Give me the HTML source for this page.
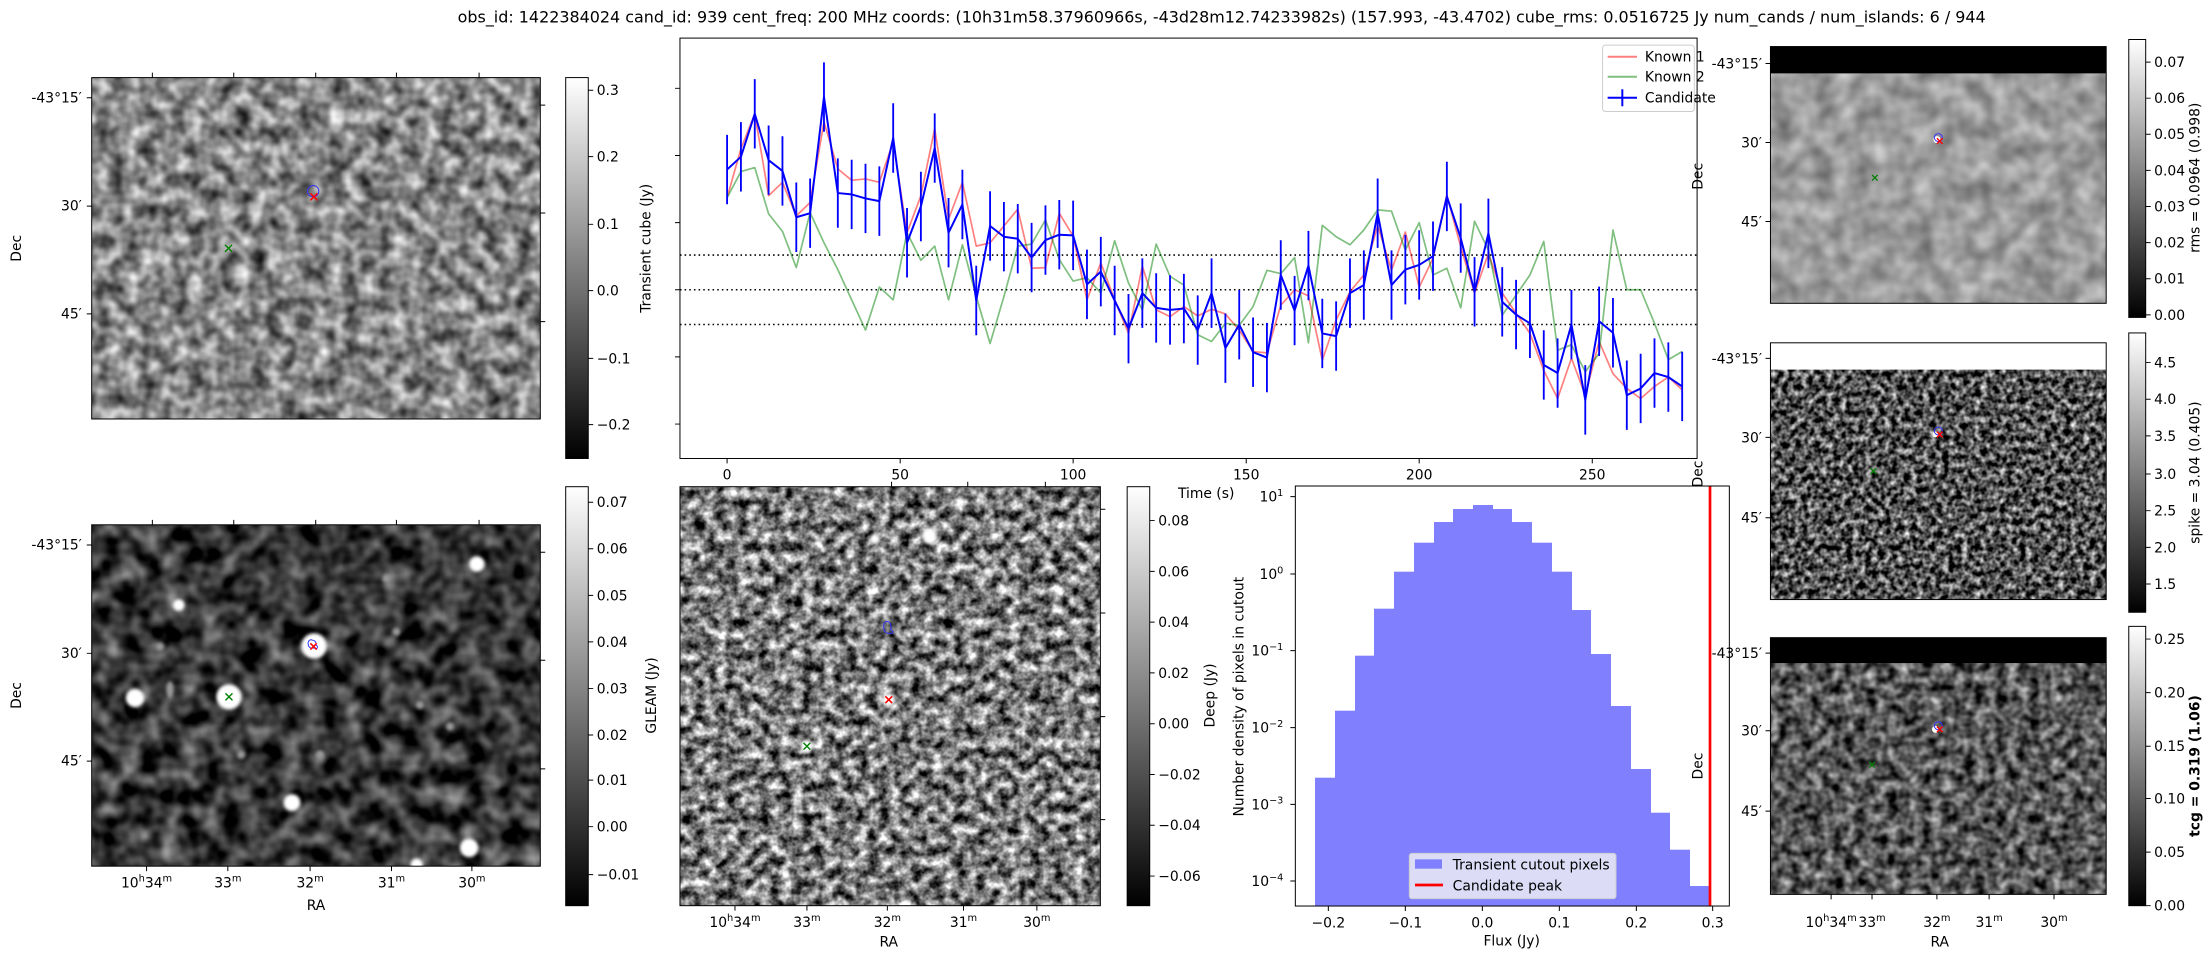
<!DOCTYPE html>
<html><head><meta charset="utf-8"><style>html,body{margin:0;padding:0;background:#fff;}svg{display:block;}</style></head>
<body>
<svg id="s" xmlns="http://www.w3.org/2000/svg" width="2212" height="960" viewBox="0 0 1568 680.5" font-family="DejaVu Sans, Liberation Sans, sans-serif" font-size="9.85">
<defs>
<linearGradient id="cb" x1="0" y1="1" x2="0" y2="0"><stop offset="0" stop-color="#000"/><stop offset="1" stop-color="#fff"/></linearGradient>
<filter id="fA" filterUnits="userSpaceOnUse" x="65" y="55" width="318" height="242" color-interpolation-filters="sRGB"><feTurbulence type="fractalNoise" baseFrequency="0.09" numOctaves="2" seed="3"/><feColorMatrix type="matrix" values="1.15 0 0 0 -0.05  1.15 0 0 0 -0.05  1.15 0 0 0 -0.05  0 0 0 0 1"/></filter>
<filter id="fC" filterUnits="userSpaceOnUse" x="65" y="372" width="318" height="242" color-interpolation-filters="sRGB"><feTurbulence type="fractalNoise" baseFrequency="0.07" numOctaves="2" seed="7"/><feColorMatrix type="matrix" values="1.05 0 0 0 -0.31  1.05 0 0 0 -0.31  1.05 0 0 0 -0.31  0 0 0 0 1"/></filter>
<filter id="fD" filterUnits="userSpaceOnUse" x="482" y="345" width="298" height="297" color-interpolation-filters="sRGB"><feTurbulence type="fractalNoise" baseFrequency="0.13" numOctaves="3" seed="11"/><feColorMatrix type="matrix" values="1.7 0 0 0 -0.37  1.7 0 0 0 -0.37  1.7 0 0 0 -0.37  0 0 0 0 1"/></filter>
<filter id="fE" filterUnits="userSpaceOnUse" x="1255" y="33" width="238" height="182" color-interpolation-filters="sRGB"><feTurbulence type="fractalNoise" baseFrequency="0.07" numOctaves="2" seed="5"/><feColorMatrix type="matrix" values="0.5 0 0 0 0.36  0.5 0 0 0 0.36  0.5 0 0 0 0.36  0 0 0 0 1"/></filter>
<filter id="fF" filterUnits="userSpaceOnUse" x="1255" y="243" width="238" height="182" color-interpolation-filters="sRGB"><feTurbulence type="fractalNoise" baseFrequency="0.22" numOctaves="2" seed="9"/><feColorMatrix type="matrix" values="1.7 0 0 0 -0.53  1.7 0 0 0 -0.53  1.7 0 0 0 -0.53  0 0 0 0 1"/></filter>
<filter id="fG" filterUnits="userSpaceOnUse" x="1255" y="452" width="238" height="182" color-interpolation-filters="sRGB"><feTurbulence type="fractalNoise" baseFrequency="0.13" numOctaves="2" seed="13"/><feColorMatrix type="matrix" values="1.2 0 0 0 -0.26  1.2 0 0 0 -0.26  1.2 0 0 0 -0.26  0 0 0 0 1"/></filter>
<filter id="bl" x="-1" y="-1" width="3" height="3"><feGaussianBlur stdDeviation="1.1"/></filter>
<clipPath id="cC"><rect x="65" y="372" width="318" height="242"/></clipPath>
<clipPath id="cD"><rect x="482" y="345" width="298" height="297"/></clipPath>
</defs>

<text x="866" y="16" font-size="11.3" text-anchor="middle">obs_id: 1422384024 cand_id: 939 cent_freq: 200 MHz coords: (10h31m58.37960966s, -43d28m12.74233982s) (157.993, -43.4702) cube_rms: 0.0516725 Jy num_cands / num_islands: 6 / 944</text>

<!-- Panel A -->
<rect x="65" y="55" width="318" height="242" filter="url(#fA)"/>
<rect x="65" y="55" width="318" height="242" fill="none" stroke="#000" stroke-width="0.7"/>
<g stroke="#000" stroke-width="0.7">
<path d="M65 69.3h-3.5M65 146.1h-3.5M65 222.5h-3.5M383 74.5h3.5M383 151h3.5M383 228h3.5M108 55v-3.5M165.7 55v-3.5M223.8 55v-3.5M281 55v-3.5M339.6 55v-3.5"/>
</g>
<text x="58" y="72.5" text-anchor="end">-43°15′</text>
<text x="58" y="149.3" text-anchor="end">30′</text>
<text x="58" y="225.7" text-anchor="end">45′</text>
<text transform="translate(15,176) rotate(-90)" text-anchor="middle">Dec</text>
<circle cx="222" cy="135.5" r="4" fill="none" stroke="#33f" stroke-width="0.7"/>
<path d="M220 137l5 5M225 137l-5 5" stroke="red" stroke-width="1.1"/>
<path d="M159.5 173.5l5 5M164.5 173.5l-5 5" stroke="green" stroke-width="1"/>

<!-- Colorbar A -->
<rect x="401" y="55" width="16" height="270" fill="url(#cb)" stroke="#000" stroke-width="0.7"/>
<path d="M417 64h3.5M417 111h3.5M417 159h3.5M417 206h3.5M417 254h3.5M417 301h3.5" stroke="#000" stroke-width="0.7"/>
<g text-anchor="start"><text x="423" y="67.5">0.3</text><text x="423" y="114.5">0.2</text><text x="423" y="162.5">0.1</text><text x="423" y="209.5">0.0</text><text x="423" y="257.5">−0.1</text><text x="423" y="304.5">−0.2</text></g>

<!-- Light curve -->
<rect x="482" y="27" width="721" height="298" fill="none" stroke="#000" stroke-width="0.7"/>
<path d="M482 62.6h-3.5M482 110.2h-3.5M482 157.8h-3.5M482 205.4h-3.5M482 253h-3.5M482 300.6h-3.5" stroke="#000" stroke-width="0.7"/>
<path d="M515.4 325v3.5M638.1 325v3.5M760.7 325v3.5M883.4 325v3.5M1006 325v3.5M1128.7 325v3.5" stroke="#000" stroke-width="0.7"/>
<g text-anchor="middle"><text x="515.4" y="340">0</text><text x="638.1" y="340">50</text><text x="760.7" y="340">100</text><text x="883.4" y="340">150</text><text x="1006" y="340">200</text><text x="1128.7" y="340">250</text></g>
<text x="855" y="353" text-anchor="middle">Time (s)</text>
<text transform="translate(461,176) rotate(-90)" text-anchor="middle">Transient cube (Jy)</text>
<g stroke="#000" stroke-width="1.1" stroke-dasharray="1.1 2.2"><path d="M482 180.8H1203M482 205.4H1203M482 230H1203"/></g>
<g id="lc"></g>
<rect x="1136" y="32" width="65" height="47" rx="2" fill="#fff" fill-opacity="0.8" stroke="#ccc" stroke-width="0.7"/>
<path d="M1139.6 40.2h20.8" stroke="#f00" stroke-opacity="0.5" stroke-width="1.4"/>
<path d="M1139.6 54.4h20.8" stroke="#008000" stroke-opacity="0.5" stroke-width="1.4"/>
<path d="M1139.6 69.3h20.8M1150 63.3v12" stroke="#00f" stroke-width="1.4"/>
<text x="1166" y="43.6">Known 1</text><text x="1166" y="57.8">Known 2</text><text x="1166" y="72.7">Candidate</text>

<!-- Panel C (GLEAM) -->
<rect x="65" y="372" width="318" height="242" filter="url(#fC)"/>
<g clip-path="url(#cC)" fill="#fff" filter="url(#bl)">
<circle cx="222.6" cy="457.9" r="9"/><circle cx="162.3" cy="494" r="9"/><circle cx="95.7" cy="494.8" r="6.5"/><circle cx="338" cy="399.8" r="5.5"/><circle cx="126.7" cy="428.9" r="4.2"/><circle cx="207" cy="569" r="6"/><circle cx="332.5" cy="601" r="6.5"/><circle cx="295.4" cy="613" r="4.5"/>
<g fill="#999"><circle cx="113.4" cy="458.4" r="3"/><ellipse cx="120.5" cy="489" rx="2.5" ry="6"/><circle cx="281" cy="447.8" r="3"/><circle cx="297.7" cy="499.7" r="3"/><circle cx="274" cy="410" r="3"/><circle cx="171" cy="535" r="3"/><circle cx="319" cy="515" r="3"/><circle cx="226.8" cy="535" r="3"/></g>
</g>
<rect x="65" y="372" width="318" height="242" fill="none" stroke="#000" stroke-width="0.7"/>
<g stroke="#000" stroke-width="0.7">
<path d="M65 386.3h-3.5M65 463.1h-3.5M65 539.5h-3.5M383 391.5h3.5M383 468h3.5M383 545h3.5M108 372v-3.5M165.7 372v-3.5M223.8 372v-3.5M281 372v-3.5M339.6 372v-3.5M103.9 614v3.5M161.5 614v3.5M219.8 614v3.5M277.5 614v3.5M334.5 614v3.5"/>
</g>
<text x="58" y="389.5" text-anchor="end">-43°15′</text>
<text x="58" y="466.3" text-anchor="end">30′</text>
<text x="58" y="542.7" text-anchor="end">45′</text>
<text transform="translate(15,493) rotate(-90)" text-anchor="middle">Dec</text>
<g text-anchor="middle">
<text x="103.9" y="629">10<tspan font-size="7" dy="-4">h</tspan><tspan dy="4">34</tspan><tspan font-size="7" dy="-4">m</tspan></text>
<text x="161.5" y="629">33<tspan font-size="7" dy="-4">m</tspan></text>
<text x="219.8" y="629">32<tspan font-size="7" dy="-4">m</tspan></text>
<text x="277.5" y="629">31<tspan font-size="7" dy="-4">m</tspan></text>
<text x="334.5" y="629">30<tspan font-size="7" dy="-4">m</tspan></text>
<text x="224" y="645">RA</text>
</g>
<path d="M221.5 453.8c-2-1-3.5 1-3 3 0 2 2 3 3 2.5l3 0.5c1-1 0.5-2-0.5-2.5c0.5-2-1-3.5-2.5-3.5z" fill="none" stroke="#33f" stroke-width="0.7"/>
<path d="M220 456l4.5 4.5M224.5 456l-4.5 4.5" stroke="red" stroke-width="1.1"/>
<path d="M159.8 491.5l5 5M164.8 491.5l-5 5" stroke="green" stroke-width="1"/>

<!-- Colorbar C -->
<rect x="401" y="345" width="16" height="297" fill="url(#cb)" stroke="#000" stroke-width="0.7"/>
<path d="M417 356h3.5M417 389h3.5M417 422h3.5M417 455h3.5M417 488h3.5M417 521h3.5M417 553h3.5M417 586h3.5M417 620h3.5" stroke="#000" stroke-width="0.7"/>
<g><text x="423" y="359.5">0.07</text><text x="423" y="392.5">0.06</text><text x="423" y="425.5">0.05</text><text x="423" y="458.5">0.04</text><text x="423" y="491.5">0.03</text><text x="423" y="524.5">0.02</text><text x="423" y="556.5">0.01</text><text x="423" y="589.5">0.00</text><text x="423" y="623.5">−0.01</text></g>
<text transform="translate(465,493) rotate(-90)" text-anchor="middle">GLEAM (Jy)</text>

<!-- Panel D (Deep) -->
<rect x="482" y="345" width="298" height="297" filter="url(#fD)"/>
<g clip-path="url(#cD)" fill="#fff" filter="url(#bl)">
<circle cx="630" cy="496" r="4.5"/><circle cx="572" cy="529" r="4.5"/><ellipse cx="659" cy="380" rx="5" ry="6"/><circle cx="620" cy="382" r="3.5"/><circle cx="700" cy="405" r="3"/><circle cx="770" cy="520" r="3"/>
</g>
<rect x="482" y="345" width="298" height="297" fill="none" stroke="#000" stroke-width="0.7"/>
<g stroke="#000" stroke-width="0.7">
<path d="M780 361h3.5M780 434.5h3.5M780 508h3.5M780 581h3.5M632 345v-3.5M686 345v-3.5M741 345v-3.5M521 642v3.5M572 642v3.5M629 642v3.5M683 642v3.5M735 642v3.5"/>
</g>
<g text-anchor="middle">
<text x="521" y="657">10<tspan font-size="7" dy="-4">h</tspan><tspan dy="4">34</tspan><tspan font-size="7" dy="-4">m</tspan></text>
<text x="572" y="657">33<tspan font-size="7" dy="-4">m</tspan></text>
<text x="629" y="657">32<tspan font-size="7" dy="-4">m</tspan></text>
<text x="683" y="657">31<tspan font-size="7" dy="-4">m</tspan></text>
<text x="735" y="657">30<tspan font-size="7" dy="-4">m</tspan></text>
<text x="630" y="671">RA</text>
</g>
<path d="M629 440.5c-2 0-3 2-2.5 4.5c0 2.5 1.5 4 3.5 4l2.5 0c1-1 0-2-1-2.5c0.5-3-0.5-6-2.5-6z" fill="none" stroke="#33f" stroke-width="0.7"/>
<path d="M627.6 493.6l4.8 4.8M632.4 493.6l-4.8 4.8" stroke="red" stroke-width="1.1"/>
<path d="M569.6 526.6l4.8 4.8M574.4 526.6l-4.8 4.8" stroke="green" stroke-width="1"/>

<!-- Colorbar D -->
<rect x="799" y="345" width="16" height="297" fill="url(#cb)" stroke="#000" stroke-width="0.7"/>
<path d="M815 369h3.5M815 405h3.5M815 441h3.5M815 477h3.5M815 513h3.5M815 549h3.5M815 585h3.5M815 621h3.5" stroke="#000" stroke-width="0.7"/>
<g><text x="821" y="372.5">0.08</text><text x="821" y="408.5">0.06</text><text x="821" y="444.5">0.04</text><text x="821" y="480.5">0.02</text><text x="821" y="516.5">0.00</text><text x="821" y="552.5">−0.02</text><text x="821" y="588.5">−0.04</text><text x="821" y="624.5">−0.06</text></g>
<text transform="translate(861,493) rotate(-90)" text-anchor="middle">Deep (Jy)</text>

<!-- Histogram -->
<g transform="translate(871.9,340.26) scale(0.23629)">
<g fill="#8080ff">
<rect x="255" y="893" width="60" height="385"/><rect x="315" y="692" width="60" height="586"/><rect x="375" y="527" width="57" height="751"/><rect x="432" y="386" width="60" height="892"/><rect x="492" y="275" width="60" height="1003"/><rect x="552" y="188" width="60" height="1090"/><rect x="612" y="126" width="57" height="1152"/><rect x="669" y="87" width="60" height="1191"/><rect x="729" y="75" width="60" height="1203"/><rect x="789" y="87" width="57" height="1191"/><rect x="846" y="126" width="60" height="1152"/><rect x="906" y="188" width="60" height="1090"/><rect x="966" y="275" width="60" height="1003"/><rect x="1026" y="390" width="57" height="888"/><rect x="1083" y="522" width="60" height="756"/><rect x="1143" y="678" width="60" height="600"/><rect x="1203" y="867" width="60" height="411"/><rect x="1263" y="998" width="57" height="280"/><rect x="1320" y="1109" width="60" height="169"/><rect x="1380" y="1218" width="58" height="60"/>
</g>
<path d="M1440 18V1278" stroke="red" stroke-width="8"/>
<rect x="196" y="18" width="1302" height="1260" fill="none" stroke="#000" stroke-width="3"/>
<g stroke="#000" stroke-width="3"><path d="M196 50h-15M196 282h-15M196 512h-15M196 743h-15M196 973h-15M196 1203h-15M295 1278v15M526 1278v15M757 1278v15M988 1278v15M1219 1278v15M1448 1278v15"/></g>
<g font-size="41.7" text-anchor="middle">
<text x="295" y="1342">−0.2</text><text x="526" y="1342">−0.1</text><text x="757" y="1342">0.0</text><text x="988" y="1342">0.1</text><text x="1219" y="1342">0.2</text><text x="1448" y="1342">0.3</text>
<text x="845" y="1397">Flux (Jy)</text>
</g>
<g font-size="41.7" text-anchor="end">
<text x="160" y="65">10<tspan font-size="29" dy="-17">1</tspan></text>
<text x="160" y="297">10<tspan font-size="29" dy="-17">0</tspan></text>
<text x="160" y="527">10<tspan font-size="29" dy="-17">−1</tspan></text>
<text x="160" y="758">10<tspan font-size="29" dy="-17">−2</tspan></text>
<text x="160" y="988">10<tspan font-size="29" dy="-17">−3</tspan></text>
<text x="160" y="1218">10<tspan font-size="29" dy="-17">−4</tspan></text>
</g>
<text transform="translate(40,650) rotate(-90)" font-size="41.7" text-anchor="middle">Number density of pixels in cutout</text>
<rect x="538" y="1120" width="620" height="136" rx="8" fill="#e6e6f5" fill-opacity="0.9" stroke="#ccc" stroke-width="3"/>
<rect x="555" y="1138" width="81" height="28" fill="#8080ff"/>
<path d="M555 1215h84" stroke="red" stroke-width="8"/>
<text x="668" y="1168" font-size="41.7">Transient cutout pixels</text>
<text x="668" y="1232" font-size="41.7">Candidate peak</text>
</g>

<!-- Right panels -->
<rect x="1255" y="33" width="238" height="182" filter="url(#fE)"/>
<rect x="1255" y="33" width="238" height="19" fill="#000"/>
<rect x="1255" y="243" width="238" height="182" filter="url(#fF)"/>
<rect x="1255" y="243" width="238" height="19" fill="#fff"/>
<rect x="1255" y="452" width="238" height="182" filter="url(#fG)"/>
<rect x="1255" y="452" width="238" height="18" fill="#000"/>
<g fill="none" stroke="#000" stroke-width="0.7">
<rect x="1255" y="33" width="238" height="182"/><rect x="1255" y="243" width="238" height="182"/><rect x="1255" y="452" width="238" height="182"/>
<path d="M1255 45h-3.5M1255 101h-3.5M1255 157h-3.5M1255 254h-3.5M1255 310h-3.5M1255 367h-3.5M1255 463h-3.5M1255 518h-3.5M1255 575h-3.5M1298 634v3.5M1327 634v3.5M1373 634v3.5M1410 634v3.5M1456 634v3.5"/>
</g>
<g fill="#fff"><circle cx="1373" cy="99" r="2.5"/><circle cx="1372" cy="308" r="2"/><circle cx="1372" cy="517" r="2.5"/></g>
<g fill="none" stroke="#33f" stroke-width="0.7"><circle cx="1374" cy="97.5" r="2.8"/><circle cx="1374" cy="305.5" r="2.8"/><circle cx="1374" cy="514.5" r="2.8"/></g>
<g stroke="red" stroke-width="1"><path d="M1373 98l4 4M1377 98l-4 4M1373 306l4 4M1377 306l-4 4M1373 515l4 4M1377 515l-4 4"/></g>
<g stroke="green" stroke-width="0.9"><path d="M1327 124l4 4M1331 124l-4 4M1326 332l4 4M1330 332l-4 4M1325 540l4 4M1329 540l-4 4"/></g>
<g text-anchor="end">
<text x="1249" y="48.5">-43°15′</text><text x="1249" y="104.5">30′</text><text x="1249" y="160.5">45′</text>
<text x="1249" y="257.5">-43°15′</text><text x="1249" y="313.5">30′</text><text x="1249" y="370.5">45′</text>
<text x="1249" y="466.5">-43°15′</text><text x="1249" y="521.5">30′</text><text x="1249" y="578.5">45′</text>
</g>
<text transform="translate(1207,125) rotate(-90)" text-anchor="middle">Dec</text>
<text transform="translate(1207,336) rotate(-90)" text-anchor="middle">Dec</text>
<text transform="translate(1207,543) rotate(-90)" text-anchor="middle">Dec</text>
<g text-anchor="middle">
<text x="1298" y="657">10<tspan font-size="7" dy="-4">h</tspan><tspan dy="4">34</tspan><tspan font-size="7" dy="-4">m</tspan></text>
<text x="1327" y="657">33<tspan font-size="7" dy="-4">m</tspan></text>
<text x="1373" y="657">32<tspan font-size="7" dy="-4">m</tspan></text>
<text x="1410" y="657">31<tspan font-size="7" dy="-4">m</tspan></text>
<text x="1456" y="657">30<tspan font-size="7" dy="-4">m</tspan></text>
<text x="1375" y="671">RA</text>
</g>

<!-- Right colorbars -->
<g stroke="#000" stroke-width="0.7">
<rect x="1509" y="28" width="12" height="197" fill="url(#cb)"/>
<rect x="1509" y="236" width="12" height="198" fill="url(#cb)"/>
<rect x="1509" y="444" width="12" height="198" fill="url(#cb)"/>
<path d="M1521 44h3.5M1521 69.6h3.5M1521 95.2h3.5M1521 120.8h3.5M1521 146.4h3.5M1521 172h3.5M1521 197.6h3.5M1521 223.2h3.5M1521 257h3.5M1521 283h3.5M1521 309h3.5M1521 336h3.5M1521 362h3.5M1521 388h3.5M1521 414h3.5M1521 453h3.5M1521 491h3.5M1521 529h3.5M1521 566h3.5M1521 604h3.5M1521 642h3.5"/>
</g>
<g>
<text x="1527" y="47.5">0.07</text><text x="1527" y="73">0.06</text><text x="1527" y="98.7">0.05</text><text x="1527" y="124.3">0.04</text><text x="1527" y="149.9">0.03</text><text x="1527" y="175.5">0.02</text><text x="1527" y="201.1">0.01</text><text x="1527" y="226.7">0.00</text>
<text x="1527" y="260.5">4.5</text><text x="1527" y="286.5">4.0</text><text x="1527" y="312.5">3.5</text><text x="1527" y="339.5">3.0</text><text x="1527" y="365.5">2.5</text><text x="1527" y="391.5">2.0</text><text x="1527" y="417.5">1.5</text>
<text x="1527" y="456.5">0.25</text><text x="1527" y="494.5">0.20</text><text x="1527" y="532.5">0.15</text><text x="1527" y="569.5">0.10</text><text x="1527" y="607.5">0.05</text><text x="1527" y="645.5">0.00</text>
</g>
<text transform="translate(1559,126) rotate(-90)" text-anchor="middle">rms = 0.0964 (0.998)</text>
<text transform="translate(1559,335) rotate(-90)" text-anchor="middle">spike = 3.04 (0.405)</text>
<text transform="translate(1559,543) rotate(-90)" text-anchor="middle" font-weight="bold">tcg = 0.319 (1.06)</text>
</svg>
<script>
(function(){
var cand=[.179,.198,.262,.193,.177,.108,.114,.287,.144,.142,.136,.132,.226,.070,.124,.211,.085,.127,-.016,.095,.079,.076,.048,.074,.082,.081,.008,.027,-.016,-.058,-.005,-.027,-.030,
-.028,-.060,-.005,-.087,-.052,-.093,-.101,.022,-.031,.036,-.065,-.069,-.005,.007,.114,.007,.030,.037,.050,.139,.077,-.003,.084,-.018,-.037,-.050,-.112,-.124,-.052,-.164,-.047,-.064,-.157,-.147,-.124,-.130,-.144];
var red=[.137,.21,.262,.14,.16,.11,.13,.25,.18,.163,.165,.16,.22,.085,.14,.24,.105,.16,.065,.07,.095,.12,.032,.033,.114,.08,-.015,.04,-.015,-.065,.035,-.03,-.04,
-.025,-.039,-.029,-.036,-.060,-.092,-.094,-.023,0,-.009,-.105,-.045,-.003,.022,.096,.029,.086,.004,.047,.141,.064,-.005,.054,-.005,-.035,-.065,-.120,-.162,-.102,-.157,-.077,-.125,-.147,-.162,-.144,-.130,-.149];
var grn=[.137,.176,.182,.113,.087,.033,.115,.07,.03,-.015,-.06,.004,-.015,.085,.044,.065,-.015,.067,-.01,-.08,-.01,.065,.068,.104,.045,.013,.018,-.005,.073,.01,-.03,.068,.02,
.007,-.067,-.077,-.050,-.053,-.025,.029,.024,.048,-.079,.096,.079,.067,.089,.119,.117,.059,.100,.022,.032,-.027,.102,.059,-.038,-.008,.022,.072,-.090,-.082,-.122,-.095,.089,0,0,-.050,-.104,-.092];
function X(i){return 515.4+2.453*4*i;}function Y(v){return 205.4-476*v;}
function pts(a){return a.map(function(v,i){return X(i).toFixed(2)+','+Y(v).toFixed(2);}).join(' ');}
var ns='http://www.w3.org/2000/svg',g=document.getElementById('lc');
function pl(a,c,op,w){var p=document.createElementNS(ns,'polyline');p.setAttribute('points',pts(a));p.setAttribute('fill','none');p.setAttribute('stroke',c);p.setAttribute('stroke-opacity',op);p.setAttribute('stroke-width',w);p.setAttribute('stroke-linejoin','round');g.appendChild(p);}
pl(red,'#f00','0.5','1.2');pl(grn,'#008000','0.5','1.2');
var d='';cand.forEach(function(v,i){d+='M'+X(i).toFixed(2)+' '+(Y(v)-24.6).toFixed(2)+'V'+(Y(v)+24.6).toFixed(2);});
var e=document.createElementNS(ns,'path');e.setAttribute('d',d);e.setAttribute('stroke','#00f');e.setAttribute('stroke-width','1.3');g.appendChild(e);
pl(cand,'#00f','1','1.4');
})();
</script>
</body></html>
